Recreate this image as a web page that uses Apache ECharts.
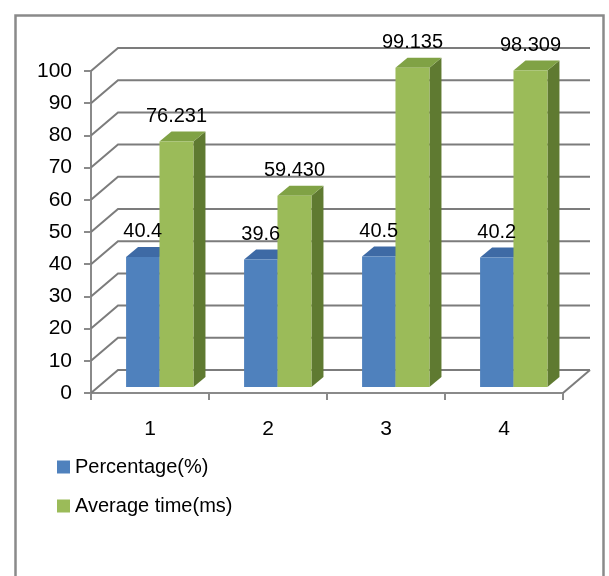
<!DOCTYPE html>
<html>
<head>
<meta charset="utf-8">
<script src="https://cdn.jsdelivr.net/npm/echarts@6/dist/echarts.min.js"></script>
<style>
  html, body { margin: 0; padding: 0; background: #ffffff; }
  #chart { width: 609px; height: 576px; }
</style>
</head>
<body>
<div id="chart"></div>
<script>
// Chart data
const categories = ['1', '2', '3', '4'];
const percentage = [40.4, 39.6, 40.5, 40.2];
const averageTime = [76.231, 59.430, 99.135, 98.309];
const yTicks = [0, 10, 20, 30, 40, 50, 60, 70, 80, 90, 100];
const seriesNames = ['Percentage(%)', 'Average time(ms)'];

const FONT = "'Liberation Sans', Arial, sans-serif";

// Pseudo-3D geometry (pixels)
const WALL_DX = 27, WALL_DY = 23;   // back wall offset from the front plane
const BAR_DX = 7, BAR_DY = 6;       // bars sit slightly behind the front plane
const DEPTH_X = 12, DEPTH_Y = 10;   // bar depth

const palette = {
  blue:  { front: '#4f81bd', top: '#3e6aa5', side: '#365d8f' },
  green: { front: '#9bbb59', top: '#80a245', side: '#5f7a31' }
};

// Horizontal placement of each column inside its category band
const layout = {
  blue:  { start: -0.262, width: 0.283 },
  green: { start: 0.021, width: 0.288 }
};

// Back wall gridlines and left wall diagonals, one per y tick
function renderWall(params, api) {
  const cs = params.coordSys;
  const v = api.value(1);
  const y = api.coord([0, v])[1];
  const x0 = cs.x, x1 = cs.x + cs.width;
  const style = { stroke: '#7c7c7c', lineWidth: 2, fill: null };
  const children = [{
    type: 'polyline',
    shape: { points: [[x0, y], [x0 + WALL_DX, y - WALL_DY], [x1 + WALL_DX, y - WALL_DY]] },
    style: style
  }];
  if (v === 0) {
    children.push({
      type: 'line',
      shape: { x1: x1, y1: y, x2: x1 + WALL_DX, y2: y - WALL_DY },
      style: style
    });
  }
  return { type: 'group', children: children };
}

function barBox(api, place) {
  const idx = api.value(0);
  const val = api.value(1);
  const band = api.size([1, 0])[0];
  const cx = api.coord([idx, 0])[0];
  const base = api.coord([idx, 0])[1] - BAR_DY;
  const top = api.coord([idx, val])[1] - BAR_DY;
  const L = cx + place.start * band + BAR_DX;
  const W = place.width * band;
  return { L: L, W: W, R: L + W, top: top, base: base, val: val };
}

// Column with front, top and side faces
function makeBarRenderer(place, colors) {
  return function (params, api) {
    const b = barBox(api, place);
    return {
      type: 'group',
      children: [
        {
          type: 'polygon',
          shape: { points: [[b.R, b.top], [b.R + DEPTH_X, b.top - DEPTH_Y], [b.R + DEPTH_X, b.base - DEPTH_Y], [b.R, b.base]] },
          style: { fill: colors.side }
        },
        {
          type: 'polygon',
          shape: { points: [[b.L, b.top], [b.R, b.top], [b.R + DEPTH_X, b.top - DEPTH_Y], [b.L + DEPTH_X, b.top - DEPTH_Y]] },
          style: { fill: colors.top }
        },
        {
          type: 'rect',
          shape: { x: b.L, y: b.top, width: b.W, height: b.base - b.top },
          style: { fill: colors.front }
        }
      ]
    };
  };
}

// Value label above a column
function makeLabelRenderer(place, digits) {
  return function (params, api) {
    const b = barBox(api, place);
    return {
      type: 'text',
      x: b.L + b.W / 2,
      y: b.top - DEPTH_Y - 5,
      style: {
        text: b.val.toFixed(digits),
        fill: '#000000',
        font: '20px ' + FONT,
        align: 'center',
        verticalAlign: 'bottom'
      }
    };
  };
}

const chart = echarts.init(document.getElementById('chart'), null, { renderer: 'canvas' });

chart.setOption({
  backgroundColor: '#ffffff',
  animation: false,
  graphic: [{
    type: 'rect',
    left: 13, top: 13,
    shape: { width: 588, height: 620 },
    style: { fill: null, stroke: '#8a8a8a', lineWidth: 2.5 },
    silent: true
  }],
  grid: { left: 91, right: 46, top: 71, bottom: 183, containLabel: false },
  legend: {
    orient: 'vertical',
    left: 52, top: 452,
    itemWidth: 13, itemHeight: 13, itemGap: 19,
    icon: 'rect',
    textStyle: { fontFamily: FONT, fontSize: 20, color: '#000000' },
    data: [
      { name: seriesNames[0], itemStyle: { color: palette.blue.front } },
      { name: seriesNames[1], itemStyle: { color: palette.green.front } }
    ]
  },
  xAxis: {
    type: 'category',
    data: categories,
    axisLine: { show: true, lineStyle: { color: '#8a8a8a', width: 2 } },
    axisTick: { show: true, length: 7, lineStyle: { color: '#8a8a8a', width: 2 } },
    axisLabel: { margin: 26, fontFamily: FONT, fontSize: 21, color: '#000000' },
    splitLine: { show: false }
  },
  yAxis: {
    type: 'value',
    min: 0, max: 100, interval: 10,
    axisLine: { show: true, lineStyle: { color: '#8a8a8a', width: 2 } },
    axisTick: { show: true, length: 7, lineStyle: { color: '#8a8a8a', width: 2 } },
    axisLabel: { margin: 19, fontFamily: FONT, fontSize: 21, color: '#000000' },
    splitLine: { show: false }
  },
  series: [
    {
      type: 'custom',
      name: 'wall',
      silent: true,
      z: 1,
      renderItem: renderWall,
      data: yTicks.map(function (v) { return [0, v]; })
    },
    {
      type: 'custom',
      name: seriesNames[0],
      z: 2,
      itemStyle: { color: palette.blue.front },
      renderItem: makeBarRenderer(layout.blue, palette.blue),
      data: percentage.map(function (v, i) { return [i, v]; })
    },
    {
      type: 'custom',
      name: seriesNames[1],
      z: 3,
      itemStyle: { color: palette.green.front },
      renderItem: makeBarRenderer(layout.green, palette.green),
      data: averageTime.map(function (v, i) { return [i, v]; })
    },
    {
      type: 'custom',
      name: seriesNames[0],
      z: 5,
      silent: true,
      itemStyle: { color: palette.blue.front },
      renderItem: makeLabelRenderer(layout.blue, 1),
      data: percentage.map(function (v, i) { return [i, v]; })
    },
    {
      type: 'custom',
      name: seriesNames[1],
      z: 5,
      silent: true,
      itemStyle: { color: palette.green.front },
      renderItem: makeLabelRenderer(layout.green, 3),
      data: averageTime.map(function (v, i) { return [i, v]; })
    }
  ]
});
</script>
</body>
</html>
